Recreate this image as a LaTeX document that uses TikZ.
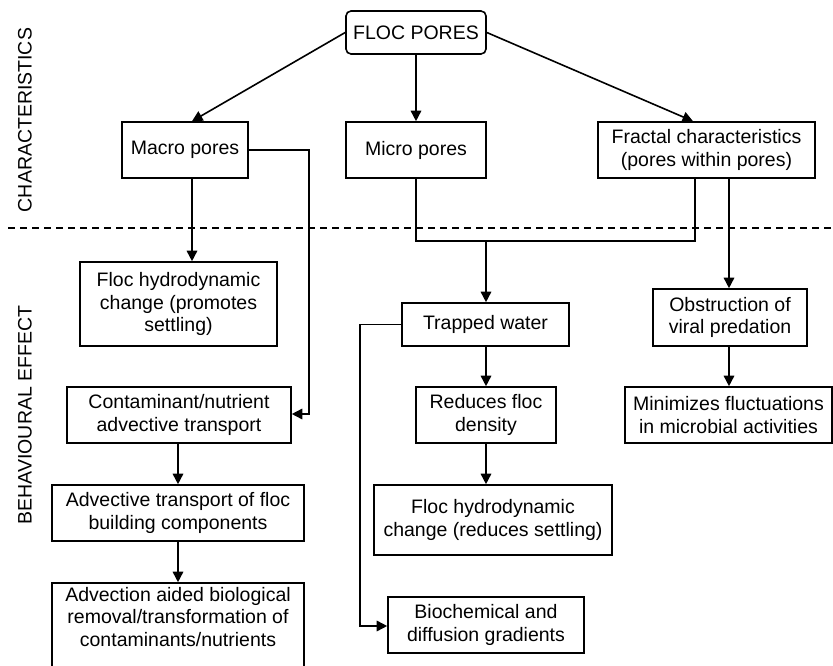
\documentclass[tikz,border=0pt]{standalone}
\usepackage{fontspec}
\setmainfont{Liberation Sans}
\usetikzlibrary{arrows.meta}
\begin{document}
\begin{tikzpicture}[x=1pt,y=-1pt,
  box/.style={draw,line width=1.6pt,fill=white,inner sep=0pt,align=center,
    font=\fontsize{19.5}{22.5}\selectfont},
  conn/.style={line width=1.6pt},
  arr/.style={conn,-{Triangle[length=10.5pt,width=10.5pt]}},
  side/.style={rotate=90,font=\fontsize{19.5}{22.5}\selectfont,inner sep=0pt}]
\useasboundingbox (0,0) rectangle (833,666);
\clip (0,0) rectangle (833,666);
% side labels
\node[side] (lch) at (25,120) {CHARACTERISTICS};
\node[side] (lbe) at (25,415) {BEHAVIOURAL EFFECT};
% dashed separator
\coordinate (dl) at (8,228);
\coordinate (dr) at (833,228);
% boxes
\node[box,rounded corners=5pt,minimum width=140pt,minimum height=43pt] (floc) at (416,32.5) {FLOC PORES};
\node[box,minimum width=126pt,minimum height=56pt] (macro) at (185,150) {Macro pores};
\node[box,minimum width=140pt,minimum height=56pt] (micro) at (416,150) {Micro pores};
\node[box,minimum width=217pt,minimum height=56pt] (fractal) at (706.5,150) {Fractal characteristics\\(pores within pores)};
\node[box,minimum width=197pt,minimum height=84pt] (flochA) at (178.5,304) {Floc hydrodynamic\\change (promotes\\settling)};
\node[box,minimum width=224pt,minimum height=56pt] (contam) at (179,415) {Contaminant/nutrient\\advective transport};
\node[box,minimum width=252pt,minimum height=56pt] (advT) at (178,513) {Advective transport of floc\\building components};
\node[box,minimum width=252pt,minimum height=90pt] (advA) at (178,628) {};
\node[font=\fontsize{19.5}{22.5}\selectfont,align=center,inner sep=0pt] (advAt) at (178,617) {Advection aided biological\\removal/transformation of\\contaminants/nutrients};
\node[box,minimum width=167pt,minimum height=43pt] (trapped) at (485.5,324.5) {Trapped water};
\node[box,minimum width=154pt,minimum height=57pt] (obstr) at (730,317.5) {Obstruction of\\viral predation};
\node[box,minimum width=140pt,minimum height=56pt] (reduces) at (486,415) {Reduces floc\\density};
\node[box,minimum width=207pt,minimum height=56pt] (minim) at (728.5,415) {Minimizes fluctuations\\in microbial activities};
\node[box,minimum width=238pt,minimum height=70pt] (flochB) at (493,520) {Floc hydrodynamic\\change (reduces settling)};
\node[box,minimum width=196pt,minimum height=56pt] (biochem) at (486,625) {Biochemical and\\diffusion gradients};
% connectors
\draw[arr] (floc.west) -- ([xshift=7pt]macro.north);
\draw[arr] (floc.south) -- (micro.north);
\draw[arr] (floc.east) -- ([xshift=-13.5pt]fractal.north);
\draw[arr] (macro.east) -- ++(60,0) |- ([yshift=1pt]contam.east);
\draw[arr] ([xshift=7pt]macro.south) -- ([xshift=7pt]macro.south |- flochA.north);
\coordinate (mj) at (486,241);
\draw[conn] (micro.south) |- ([xshift=-11.5pt]fractal.south |- mj) -- ([xshift=-11.5pt]fractal.south);
\draw[arr] (mj) -- (mj |- trapped.north);
\draw[arr] ([xshift=22.5pt]fractal.south) -- ([xshift=22.5pt]fractal.south |- obstr.north);
\draw[arr] (trapped.west) -- ++(-41,0) |- ([yshift=-1pt]biochem.west);
\draw[arr] ([xshift=0.5pt]trapped.south) -- ([xshift=0.5pt]trapped.south |- reduces.north);
\draw[arr] (reduces.south) -- (reduces.south |- flochB.north);
\draw[arr] ([xshift=-1pt]obstr.south) -- ([xshift=-1pt]obstr.south |- minim.north);
\draw[arr] ([xshift=-1pt]contam.south) -- ([xshift=-1pt]contam.south |- advT.north);
\draw[arr] (advT.south) -- (advT.south |- advA.north);
\draw[line width=1.7pt,dash pattern=on 7pt off 5pt] (dl) -- (dr);
\end{tikzpicture}
\end{document}
